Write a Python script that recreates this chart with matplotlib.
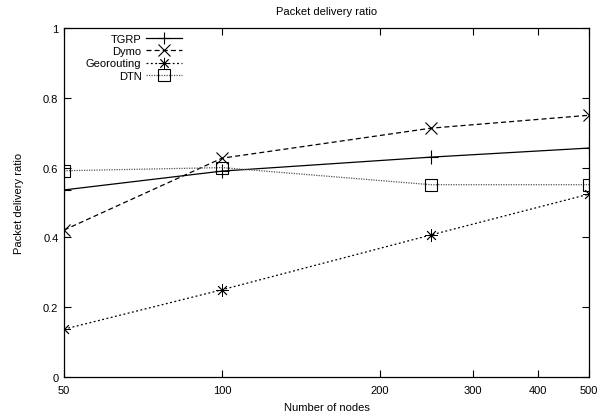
import numpy as np
import matplotlib
matplotlib.use('Agg')
import matplotlib.pyplot as plt
from matplotlib.ticker import FixedLocator, FixedFormatter, NullLocator

plt.rcParams['font.family'] = ['Liberation Sans', 'DejaVu Sans']

# 数据
nodes = [50, 100, 250, 500]
tgrp = [0.536, 0.59, 0.63, 0.656]
dymo = [0.421, 0.627, 0.713, 0.75]
georouting = [0.137, 0.25, 0.407, 0.524]
dtn = [0.591, 0.60, 0.551, 0.551]

x_ticks = [50, 100, 200, 300, 400, 500]
y_ticks = [0, 0.2, 0.4, 0.6, 0.8, 1]

fig = plt.figure(figsize=(6.08, 4.14), dpi=100)
ax = fig.add_axes([64 / 608, 1 - 378 / 414, (589 - 64) / 608, (378 - 29) / 414])

asterisk = (8, 2, 0)
ax.plot(nodes, tgrp, color='black', lw=0.9, ls='-', marker='+', ms=10, mew=0.8, label='TGRP')
ax.plot(nodes, dymo, color='black', lw=0.9, ls=(0, (4, 2.5)), marker='x', ms=9, mew=0.8, label='Dymo')
ax.plot(nodes, georouting, color='black', lw=0.9, ls=(0, (1.5, 2)), marker=asterisk, ms=9, mew=0.6,
        label='Georouting')
ax.plot(nodes, dtn, color='#555555', lw=0.9, ls=(0, (1, 1)), marker='s', ms=9, mew=0.8,
        mfc='none', mec='black', label='DTN')

ax.set_xscale('log')
ax.set_xlim(50, 500)
ax.set_ylim(0, 1)
ax.xaxis.set_major_locator(FixedLocator(x_ticks))
ax.xaxis.set_major_formatter(FixedFormatter([str(t) for t in x_ticks]))
ax.xaxis.set_minor_locator(NullLocator())
ax.set_yticks(y_ticks)
ax.set_yticklabels(['0', '0.2', '0.4', '0.6', '0.8', '1'])

ax.tick_params(direction='in', top=True, right=True, length=5, width=0.8, labelsize=8)
ax.tick_params(axis='x', pad=6)
ax.tick_params(axis='y', pad=4)
for s in ax.spines.values():
    s.set_linewidth(0.9)

ax.set_title('Packet delivery ratio', fontsize=8, pad=10)
ax.set_xlabel('Number of nodes', fontsize=8, labelpad=5)
ax.set_ylabel('Packet delivery ratio', fontsize=8, labelpad=14)

ax.legend(loc='upper left', bbox_to_anchor=((86 - 64) / 525, 1 - (35 - 29) / 349), frameon=False,
          markerfirst=False, fontsize=8, handlelength=3.2, handletextpad=0.4, labelspacing=0.2,
          borderaxespad=0, borderpad=0, markerscale=0.9)

plt.savefig('out.png', dpi=100, facecolor='white')
